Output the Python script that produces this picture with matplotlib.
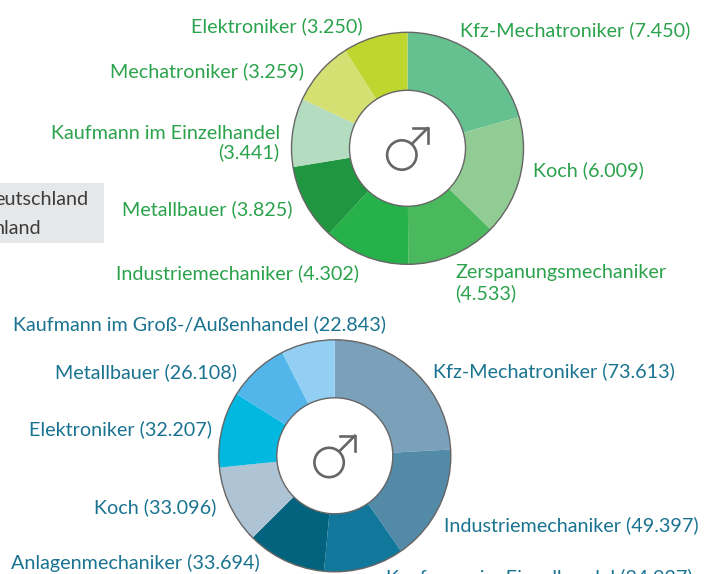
import matplotlib
matplotlib.use("Agg")
import matplotlib.pyplot as plt
from matplotlib.patches import Circle, Rectangle

plt.rcParams['font.family'] = ['Lato', 'DejaVu Sans']

# Data
top_names = ["Kfz-Mechatroniker", "Koch", "Zerspanungsmechaniker", "Industriemechaniker",
             "Metallbauer", "Kaufmann im Einzelhandel", "Mechatroniker", "Elektroniker"]
top_values = [7450, 6009, 4533, 4302, 3825, 3441, 3259, 3250]
top_colors = ["#65c18f", "#91cc94", "#4ab85c", "#26b14b", "#1f963f", "#b4dcc0", "#d5e072", "#bed62f"]

bot_names = ["Kfz-Mechatroniker", "Industriemechaniker", "Kaufmann im Einzelhandel", "Anlagenmechaniker",
             "Koch", "Elektroniker", "Metallbauer", "Kaufmann im Groß-/Außenhandel"]
bot_values = [73613, 49397, 34027, 33694, 33096, 32207, 26108, 22843]
bot_colors = ["#7aa0ba", "#528aa8", "#12789b", "#02637f", "#aec3d4", "#00b8e0", "#52b6ea", "#93cff2"]

box_lines = ["eutschland", "nland"]

GREEN = "#2ba24c"
BLUE = "#1a7391"
GREY = "#666666"
FS = 14.2

# layout: (x, baseline y, ha)
top_pos = [(460, 36, 'left'), (533, 176, 'left'), (455, 278, 'left'), (116, 279, 'left'),
           (122, 215, 'left'), (51, 139, 'left'), (110, 77, 'left'), (191, 32, 'left')]
bot_pos = [(433, 377, 'left'), (444, 531, 'left'), (386, 583, 'left'), (11, 569, 'left'),
           (94, 513, 'left'), (29, 435, 'left'), (55, 378, 'left'), (13, 330, 'left')]


def fmt(v):
    return f"{v:,}".replace(",", ".")


fig = plt.figure(figsize=(7.14, 5.74), dpi=100)
ax = fig.add_axes([0, 0, 1, 1])


def donut(values, colors, center):
    ax.pie(values, colors=colors, center=center, radius=116, startangle=-90, counterclock=True,
           wedgeprops=dict(width=58, linewidth=0), frame=True)
    ax.add_patch(Circle(center, 116, fill=False, ec=GREY, lw=1.0, zorder=5))
    ax.add_patch(Circle(center, 58, fill=False, ec=GREY, lw=1.0, zorder=5))
    cx, cy = center
    ax.add_patch(Circle((cx - 5.7, cy + 6.7), 14.7, fill=False, ec=GREY, lw=1.9, zorder=6))
    ax.plot([cx + 4.5, cx + 20], [cy - 4.5, cy - 20], color=GREY, lw=1.9, zorder=6)
    ax.plot([cx + 5, cx + 20, cx + 20], [cy - 20, cy - 20, cy - 5], color=GREY, lw=1.9, zorder=6,
            solid_joinstyle='miter')


donut(top_values, top_colors, (407.5, 148.3))
donut(bot_values, bot_colors, (334.8, 455.8))

ax.add_patch(Rectangle((0, 183), 103.5, 60, fc="#e6e7e8", ec="none", zorder=0))
ax.text(88, 205, box_lines[0], ha='right', va='baseline', fontsize=FS, color="#3c3c3c")
ax.text(41, 234, box_lines[1], ha='right', va='baseline', fontsize=FS, color="#3c3c3c")

for name, val, (x, y, ha) in zip(top_names, top_values, top_pos):
    if name == "Zerspanungsmechaniker":
        ax.text(x, y, name, color=GREEN, fontsize=FS, ha=ha, va='baseline')
        ax.text(x, y + 21, f"({fmt(val)})", color=GREEN, fontsize=FS, ha=ha, va='baseline')
    elif name == "Kaufmann im Einzelhandel":
        ax.text(x, y, name, color=GREEN, fontsize=FS, ha=ha, va='baseline')
        ax.text(279, y + 19, f"({fmt(val)})", color=GREEN, fontsize=FS, ha='right', va='baseline')
    else:
        ax.text(x, y, f"{name} ({fmt(val)})", color=GREEN, fontsize=FS, ha=ha, va='baseline')

for name, val, (x, y, ha) in zip(bot_names, bot_values, bot_pos):
    ax.text(x, y, f"{name} ({fmt(val)})", color=BLUE, fontsize=FS, ha=ha, va='baseline')

ax.set_xlim(0, 714)
ax.set_ylim(574, 0)
ax.set_aspect('equal')
ax.axis('off')
fig.savefig("out.png", dpi=100)
